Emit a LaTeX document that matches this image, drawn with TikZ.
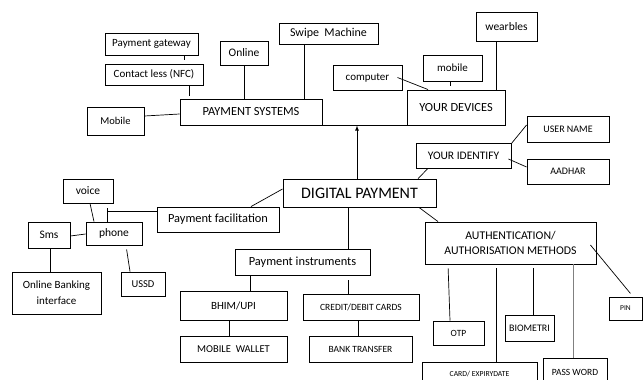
\documentclass[tikz,border=0pt]{standalone}
\usepackage{fontspec}
\setmainfont{Carlito}
\usepackage{tikz}
\usetikzlibrary{positioning,arrows,calc}
\tikzset{
  box/.style  = {draw, line width=0.9pt, inner sep=1pt, align=center,
                 font=\fontsize{11}{13}\selectfont},
  sz/.style 2 args = {minimum width=#1pt, minimum height=#2pt},
  fs/.style   = {font=\fontsize{#1}{#1}\selectfont},
  mid/.style  = {font=\fontsize{12.4}{15}\selectfont},
  big/.style  = {font=\fontsize{16}{19}\selectfont},
  tiny/.style = {font=\fontsize{10}{12}\selectfont},
  edge/.style = {line width=0.7pt},
  post/.style = {->, >=latex, line width=0.8pt}
}

\begin{document}
\begin{tikzpicture}[x=1pt, y=-1pt]
  \useasboundingbox (0,0) rectangle (643,380);

  % payment systems side
  \node[box, sz={93}{22}]       (pg)    at (151.5,44)  {Payment gateway};
  \node[box, sz={98}{21}]       (nfc)   at (154,74.5)  {Contact less (NFC)};
  \node[box, fs=11.5, sz={48}{24}] (onl) at (244,53)   {Online};
  \node[box, fs=12, sz={99}{21}] (swipe) at (328.5,33.5){Swipe\ \ Machine};
  \node[box, fs=10.5, sz={57}{28}] (mob) at (115.5,121) {Mobile};
  \node[box, mid, sz={142}{26}] (ps)    at (251,112)   {PAYMENT SYSTEMS};

  % devices
  \node[box, sz={69}{25}]       (comp)  at (367.5,77.5){computer};
  \node[box, sz={59}{26}]       (mobd)  at (452.5,68)  {mobile};
  \node[box, fs=11.5, sz={61}{29}] (wear) at (506.5,26.5){wearbles};
  \node[box, mid, sz={98}{35}]  (dev)   at (456,107.5) {YOUR DEVICES};

  % identity
  \node[box, fs=11.5, sz={95}{25}] (idt) at (463.5,155.5){YOUR IDENTIFY};
  \node[box, tiny, sz={82}{26}] (user)  at (568,129)   {USER NAME};
  \node[box, tiny, sz={82}{25}] (aad)   at (568,171.5) {AADHAR};

  \node[box, big, sz={153}{28}] (dp)    at (359.5,193) {DIGITAL PAYMENT};

  % facilitation
  \node[box, mid, sz={122}{25}] (pf)    at (218,219.5) {Payment facilitation};
  \node[box, fs=11.5, sz={50}{24}] (voice) at (88,191) {voice};
  \node[box, fs=11.5, sz={56}{23}] (phone) at (114,233.5) {phone};
  \node[box, fs=11.5, sz={42}{26}] (sms) at (49,235)   {Sms};
  \node[box, sz={89}{42}]       (obi)   at (56.5,293)  {Online Banking\\[3pt]interface};
  \node[box, fs=10.5, sz={44}{24}] (ussd) at (143,284) {USSD};

  % instruments
  \node[box, mid, sz={135}{26}] (pi)    at (302.5,262) {Payment instruments};
  \node[box, sz={107}{29}]      (bhim)  at (233.5,305.5){BHIM/UPI};
  \node[box, fs=9.5, sz={116}{26}] (cdc) at (361,307)  {CREDIT/DEBIT CARDS};
  \node[box, fs=10.5, sz={107}{26}] (mw) at (233.5,349) {MOBILE\ \ WALLET};
  \node[box, fs=9.5, sz={103}{26}] (bt)  at (360.5,349) {BANK TRANSFER};

  % authentication
  \node[box, fs=11.8, sz={171}{42}] (auth) at (510.5,243) {AUTHENTICATION/\\[3pt]AUTHORISATION METHODS};
  \node[box, fs=9.5, sz={51}{24}] (otp)  at (458.5,333) {OTP};
  \node[box, tiny, sz={49}{26}] (bio)   at (529.5,328) {BIOMETRI};
  \node[box, fs=7.5, sz={33}{23}] (pin) at (625.5,308.5){PIN};
  \node[box, fs=7.7, sz={115}{24}, anchor=north] (card) at (479.5,362) {CARD/ EXPIRYDATE};
  \node[box, fs=9.5, sz={64}{27}, anchor=north] (pw) at (575,358) {PASS WORD};

  % connectors
  \draw[edge, shorten >=4pt] ([xshift=32.5]pg.south) -- ([xshift=30]nfc.north);
  \draw[edge, shorten >=3pt] ([xshift=35]nfc.south) -- ([xshift=-62]ps.north);
  \draw[edge] (onl) -- (onl |- ps.north);
  \draw[edge] ([xshift=-24.5]swipe.south) -- ([xshift=53]ps.north);
  \draw[edge] ([yshift=5]mob.east) -- ([yshift=-2]ps.west);
  \draw[edge] ([xshift=30]comp.center) -- ([xshift=-28]dev.north);
  \draw[edge, shorten >=4pt] ([xshift=-2.5]mobd.south) -- ([xshift=-6]dev.north);
  \draw[edge] ([xshift=-10.5]wear.south) -- ([xshift=40]dev.north);
  \draw[edge] (ps.south east) -- (dev.south west);
  \draw[post] ([xshift=-2.5]dp.north) -- ([xshift=-2.5]dp.north |- ps.south);

  \draw[edge] ([xshift=-35.5]idt.south) -- ([xshift=58.5]dp.north);
  \draw[edge] ([yshift=12]idt.east) -- ([yshift=4]user.west);
  \draw[edge] ([xshift=-3,yshift=-3.5]idt.east) -- ([yshift=4.5]aad.west);

  \draw[edge] ([yshift=4]dp.west) -- ([xshift=33]pf.north);
  \draw[edge] ([xshift=-11.5]dp.south) -- ([xshift=45.5]pi.north);
  \draw[edge] ([xshift=59.5]dp.south) -- ([xshift=-72.5]auth.north);

  \coordinate (k) at (107,208);
  \draw[edge] ([yshift=8.5]pf.west) -- ([yshift=-3]k);
  \draw[edge] (k) -- (k |- phone.north);
  \draw[edge] ([xshift=2]voice.south) -- ([xshift=-20]phone.north);
  \draw[edge] ([yshift=-1]sms.east) -- ([yshift=-0.5]phone.west);
  \draw[edge] ([xshift=1]sms.south) -- ([xshift=-6.5]obi.north);
  \draw[edge, shorten <=4pt] ([xshift=12]phone.south) -- ([xshift=-13]ussd.north);

  \draw[edge] ([xshift=-52.5]pi.south) -- ([xshift=16.5]bhim.north);
  \draw[edge, shorten <=5pt] ([xshift=45.5]pi.south) -- ([xshift=-13]cdc.north);
  \draw[edge] ([xshift=-4.5]bhim.south) -- ([xshift=-4.5]mw.north);
  \draw[edge] ([xshift=-3]cdc.south) -- ([xshift=-2.5]bt.north);

  \draw[edge, shorten <=4pt] ([xshift=-62.5]auth.south) -- ([xshift=-8.5]otp.north);
  \draw[edge, shorten <=4pt] ([xshift=-14.5]auth.south) -- ([xshift=16.5]card.north);
  \draw[edge, shorten <=4pt] ([xshift=22.5]auth.south) -- ([xshift=3.5]bio.north);
  \draw[edge, gray] ([xshift=62.5]auth.south) -- ([xshift=-2]pw.north);
  \draw[edge, shorten >=4pt] ([xshift=-6,yshift=-2]auth.east) -- ([xshift=7.5]pin.north);
\end{tikzpicture}
\end{document}
